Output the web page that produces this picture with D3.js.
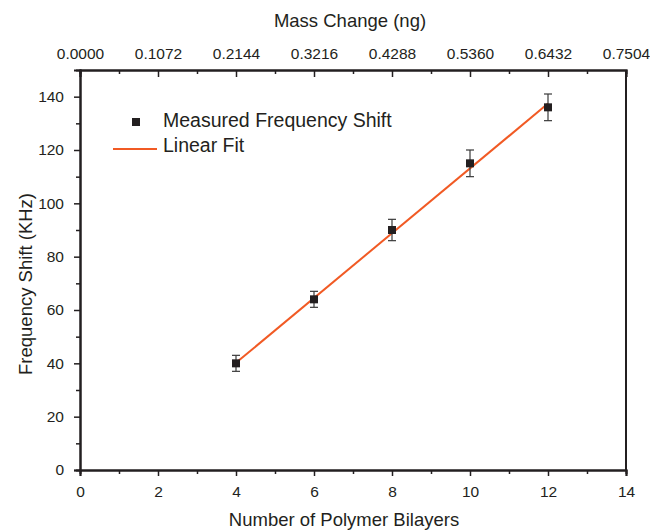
<!DOCTYPE html>
<html>
<head>
<meta charset="utf-8">
<script src="https://cdn.jsdelivr.net/npm/d3@7"></script>
<style>
  body { margin: 0; background: #fff; }
  text { font-family: "Liberation Sans", Arial, sans-serif; fill: #231f20; }
</style>
</head>
<body>
<div id="chart"></div>
<script>
// measured data
const bilayers = [4, 6, 8, 10, 12]
const freqShift = [40, 64, 90, 115, 136]
const freqErr = [3, 3, 4, 5, 5]

// linear fit endpoints
const fitX = [4, 12]
const fitY = [40.2, 137.4]

const massTicks = ["0.0000", "0.1072", "0.2144", "0.3216", "0.4288", "0.5360", "0.6432", "0.7504"]

const margin = {top: 70, right: 24, bottom: 61, left: 80},
    width = 650 - margin.left - margin.right,
    height = 531 - margin.top - margin.bottom;

const svg = d3.select("#chart")
  .append("svg")
    .attr("width", 650)
    .attr("height", 531)
  .append("g")
    .attr("transform", `translate(${margin.left},${margin.top})`);

const x = d3.scaleLinear().domain([0, 14]).range([0, width])
const y = d3.scaleLinear().domain([0, 150]).range([height, 0])
const xTop = d3.scaleLinear().domain([0, 0.7504]).range([0, width])

const stroke = "#231f20"

// minor ticks first
svg.append("g")
  .attr("transform", `translate(0,${height})`)
  .call(d3.axisBottom(x).tickValues(d3.range(1, 14, 2)).tickSize(4).tickFormat(""))
svg.append("g")
  .call(d3.axisLeft(y).tickValues(d3.range(10, 150, 20)).tickSize(4).tickFormat(""))
svg.append("g")
  .call(d3.axisBottom(xTop).tickValues(d3.range(1, 14, 2).map(d => d * 0.0536)).tickSize(4).tickFormat(""))

// major axes
const xAxis = svg.append("g")
  .attr("transform", `translate(0,${height})`)
  .call(d3.axisBottom(x).tickValues(d3.range(0, 15, 2)).tickSize(6).tickPadding(10))
const yAxis = svg.append("g")
  .call(d3.axisLeft(y).tickValues(d3.range(0, 141, 20)).tickSize(6).tickPadding(10))
const topAxis = svg.append("g")
  .call(d3.axisTop(xTop).tickValues(massTicks.map(Number)).tickSize(-7).tickPadding(11)
    .tickFormat((d, i) => massTicks[i]))

svg.append("line")
  .attr("x1", width).attr("x2", width)
  .attr("y1", 0).attr("y2", height)
  .attr("stroke", stroke).attr("stroke-width", 2)

svg.selectAll(".domain").attr("stroke", stroke).attr("stroke-width", 2)
svg.selectAll(".tick line").attr("stroke", stroke).attr("stroke-width", 1.5)
svg.selectAll(".tick text").style("font-size", "15.5px").style("fill", stroke)
  .style("font-family", "'Liberation Sans', Arial, sans-serif")
topAxis.selectAll(".tick text").attr("dy", "0em")

// fit line
svg.append("path")
  .datum(fitX.map((d, i) => [d, fitY[i]]))
  .attr("d", d3.line().x(d => x(d[0])).y(d => y(d[1])))
  .attr("stroke", "#f15a24")
  .attr("stroke-width", 2)
  .attr("fill", "none")

// error bars
const pts = bilayers.map((d, i) => ({x: d, y: freqShift[i], e: freqErr[i]}))
const err = svg.append("g").attr("stroke", "#3a3a3a").attr("stroke-width", 1.2)
err.selectAll(".v").data(pts).join("line")
  .attr("x1", d => x(d.x)).attr("x2", d => x(d.x))
  .attr("y1", d => y(d.y - d.e)).attr("y2", d => y(d.y + d.e))
err.selectAll(".top").data(pts).join("line")
  .attr("x1", d => x(d.x) - 4).attr("x2", d => x(d.x) + 4)
  .attr("y1", d => y(d.y + d.e)).attr("y2", d => y(d.y + d.e))
err.selectAll(".bot").data(pts).join("line")
  .attr("x1", d => x(d.x) - 4).attr("x2", d => x(d.x) + 4)
  .attr("y1", d => y(d.y - d.e)).attr("y2", d => y(d.y - d.e))

svg.selectAll("rect.pt").data(pts).join("rect")
  .attr("x", d => x(d.x) - 4).attr("y", d => y(d.y) - 4)
  .attr("width", 8).attr("height", 8)
  .attr("fill", stroke)

// legend
const leg = svg.append("g")
leg.append("rect").attr("x", 52).attr("y", 48).attr("width", 8).attr("height", 8).attr("fill", stroke)
leg.append("text").attr("x", 83).attr("y", 57).style("font-size", "19.5px").text("Measured Frequency Shift")
leg.append("line").attr("x1", 33).attr("x2", 77).attr("y1", 79).attr("y2", 79)
  .attr("stroke", "#f15a24").attr("stroke-width", 2)
leg.append("text").attr("x", 83).attr("y", 82).style("font-size", "19.5px").text("Linear Fit")

// axis titles
svg.append("text")
  .attr("x", 264).attr("y", height + 56)
  .attr("text-anchor", "middle").style("font-size", "18.5px")
  .text("Number of Polymer Bilayers")
svg.append("text")
  .attr("x", 270).attr("y", -43)
  .attr("text-anchor", "middle").style("font-size", "18.5px")
  .text("Mass Change (ng)")
svg.append("text")
  .attr("transform", `translate(-48,214) rotate(-90)`)
  .attr("text-anchor", "middle").style("font-size", "18.5px")
  .text("Frequency Shift (KHz)")
</script>
</body>
</html>
